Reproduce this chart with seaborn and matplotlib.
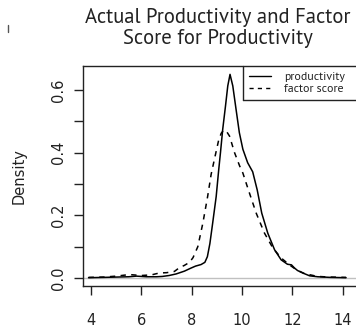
import numpy as np
import pandas as pd
import matplotlib
matplotlib.use("Agg")
import matplotlib.pyplot as plt
from matplotlib.lines import Line2D
import seaborn as sns

# Density curve of the observed productivity values
prod_x = [3.9, 4.5, 5.0, 5.5, 5.8, 6.2, 6.6, 6.83, 7.1, 7.38, 7.71, 7.95, 8.15, 8.37,
          8.52, 8.62, 8.72, 8.83, 8.97, 9.07, 9.14, 9.23, 9.34, 9.43, 9.52, 9.63, 9.76,
          9.89, 10.03, 10.22, 10.42, 10.60, 10.78, 11.02, 11.29, 11.55, 11.80, 11.96,
          12.08, 12.20, 12.41, 12.68, 13.0, 13.5, 14.13]
prod_y = [0.001, 0.002, 0.003, 0.004, 0.006, 0.004, 0.004, 0.005, 0.008, 0.013, 0.022,
          0.031, 0.038, 0.043, 0.050, 0.068, 0.110, 0.175, 0.260, 0.345, 0.400, 0.475,
          0.549, 0.613, 0.650, 0.613, 0.538, 0.464, 0.411, 0.368, 0.339, 0.281, 0.207,
          0.143, 0.090, 0.058, 0.044, 0.042, 0.032, 0.024, 0.016, 0.007, 0.004, 0.002,
          0.001]

# Density curve of the factor scores
fact_x = [3.9, 4.5, 5.0, 5.52, 6.0, 6.4, 6.71, 7.0, 7.31, 7.51, 7.70, 7.91, 8.05, 8.24,
          8.44, 8.63, 8.77, 8.93, 9.06, 9.17, 9.27, 9.38, 9.50, 9.70, 9.90, 10.03, 10.25,
          10.56, 10.89, 11.22, 11.55, 11.88, 12.16, 12.48, 13.0, 13.5, 14.13]
fact_y = [0.002, 0.003, 0.006, 0.011, 0.008, 0.010, 0.016, 0.017, 0.021, 0.033, 0.040,
          0.050, 0.065, 0.100, 0.175, 0.260, 0.331, 0.390, 0.437, 0.462, 0.472, 0.468,
          0.453, 0.400, 0.358, 0.335, 0.281, 0.207, 0.143, 0.096, 0.064, 0.042, 0.026,
          0.014, 0.005, 0.003, 0.002]

x_ticks = [4, 6, 8, 10, 12, 14]
y_ticks = [0.0, 0.1, 0.2, 0.3, 0.4, 0.5, 0.6]
y_tick_labels = ["0.0", "", "0.2", "", "0.4", "", "0.6"]
legend_labels = ["productivity", "factor score"]
title_text = "Actual Productivity and Factor\nScore for Productivity"

sns.set_style("white")
plt.rcParams["font.family"] = ["DejaVu Sans"]
INK = "#222222"
NARROW = ["PT Sans", "DejaVu Sans"]

W, H = 356, 327
fig = plt.figure(figsize=(W / 100, H / 100), dpi=100)

# axes box in pixel terms
left_px, right_px, top_px, bottom_px = 83, 361.7, 66, 286
ax = fig.add_axes([left_px / W, 1 - bottom_px / H,
                   (right_px - left_px) / W, (bottom_px - top_px) / H])

ax.axhline(0, color="#c0c0c0", lw=1.0, zorder=1)

sns.lineplot(x=prod_x, y=prod_y, ax=ax, color="black", lw=1.1,
             estimator=None, sort=False, zorder=3)
sns.lineplot(x=fact_x, y=fact_y, ax=ax, color="black", lw=1.1,
             estimator=None, sort=False, zorder=3, linestyle=(0, (3.5, 3.5)))

ax.set_xlim(3.68, 14.75)
ax.set_ylim(-0.0255, 0.6767)

ax.set_xticks(x_ticks)
ax.set_xticklabels([str(v) for v in x_ticks])
ax.set_yticks(y_ticks)
ax.set_yticklabels(y_tick_labels, rotation=90, va="center")
ax.tick_params(axis="both", direction="out", length=6.5, width=1.0, color=INK,
               labelsize=10.5, labelcolor=INK, bottom=True, left=True)
ax.tick_params(axis="x", pad=13)
ax.tick_params(axis="y", pad=6)

for side in ["left", "bottom", "top", "right"]:
    ax.spines[side].set_visible(True)
    ax.spines[side].set_color(INK)
    ax.spines[side].set_linewidth(1.0)

ax.set_xlabel("")
ax.set_ylabel("Density", fontsize=10.5, color=INK, labelpad=17)

renderer = fig.canvas.get_renderer()

def fit_size(text_obj, target_px):
    """Scale a text's font size so its widest line spans target_px pixels."""
    w = text_obj.get_window_extent(renderer).width
    text_obj.set_fontsize(text_obj.get_fontsize() * target_px / w)

title = fig.text(218 / W, 1 - 8 / H, title_text, ha="center", va="top",
                 fontsize=15, color=INK, linespacing=1.1, family=NARROW)
fit_size(title, 267)

handles = [Line2D([], [], color="black", lw=1.0),
           Line2D([], [], color="black", lw=1.0, linestyle=(0, (3, 3)))]
probe = fig.text(0, 0, legend_labels[0], fontsize=10, family=NARROW)
fit_size(probe, 61)
leg_size = probe.get_fontsize()
probe.remove()

leg_px = leg_size * 100 / 72
leg_left_px = 243
leg = ax.legend(handles, legend_labels, loc="upper left",
                bbox_to_anchor=(leg_left_px / W, 1 - top_px / H),
                bbox_transform=fig.transFigure,
                prop={"family": NARROW, "size": leg_size}, frameon=False,
                handlelength=22 / leg_px, handletextpad=13 / leg_px,
                borderpad=0.5, labelspacing=0.15, borderaxespad=0)
for t in leg.get_texts():
    t.set_color(INK)

# open legend frame: left and bottom edges, running out past the right border
fig.canvas.draw()
leg_bottom_px = H - leg.get_window_extent(renderer).y0
fig.add_artist(Line2D([leg_left_px / W, leg_left_px / W],
                      [1 - top_px / H, 1 - leg_bottom_px / H],
                      transform=fig.transFigure, color=INK, lw=1.0))
fig.add_artist(Line2D([leg_left_px / W, 1.02],
                      [1 - leg_bottom_px / H, 1 - leg_bottom_px / H],
                      transform=fig.transFigure, color=INK, lw=1.0))

fig.add_artist(Line2D([7.5 / W, 7.5 / W], [1 - 25 / H, 1 - 32 / H],
                      transform=fig.transFigure, color="#555555", lw=1.0))

fig.savefig("out.png", dpi=100)
